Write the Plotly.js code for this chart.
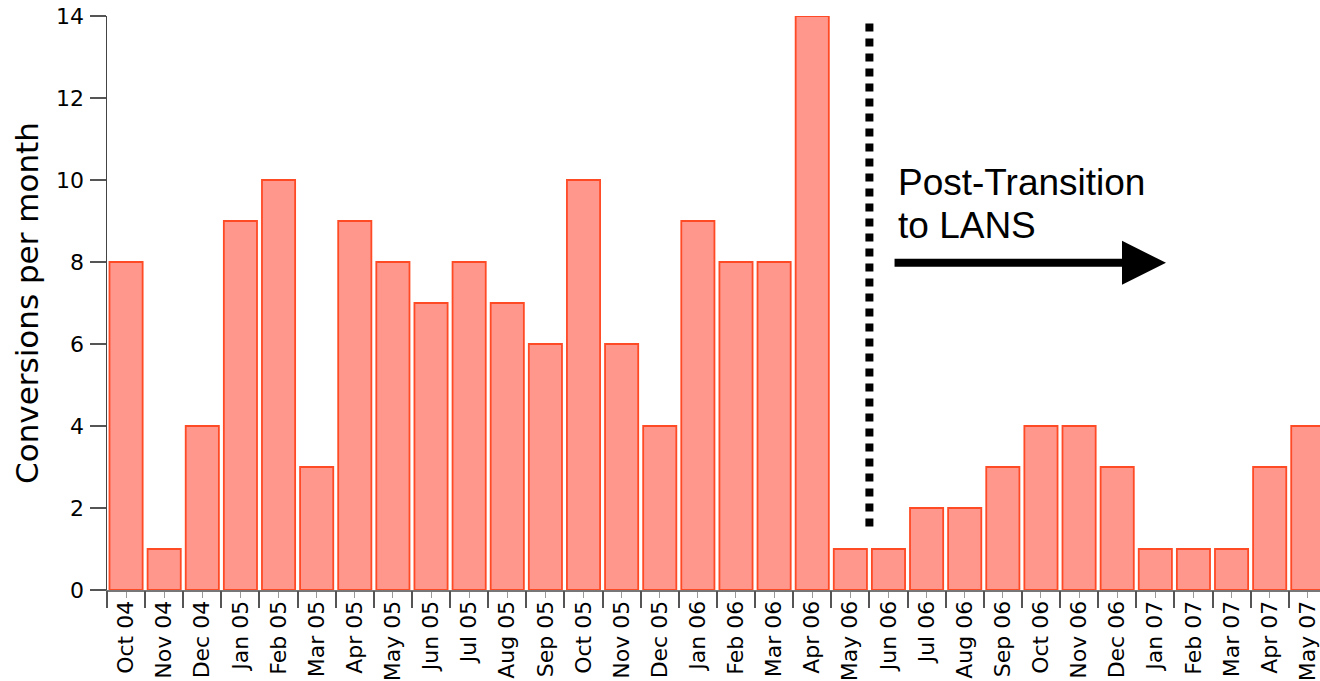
<!DOCTYPE html>
<html>
<head>
<meta charset="utf-8">
<script src="https://cdn.plot.ly/plotly-3.0.1.min.js"></script>
<style>html,body{margin:0;padding:0;background:#fff;}#chart{width:1320px;height:681px;}</style>
</head>
<body>
<div id="chart"></div>
<script>
const months = ["Oct 04","Nov 04","Dec 04","Jan 05","Feb 05","Mar 05","Apr 05","May 05","Jun 05","Jul 05","Aug 05","Sep 05","Oct 05","Nov 05","Dec 05","Jan 06","Feb 06","Mar 06","Apr 06","May 06","Jun 06","Jul 06","Aug 06","Sep 06","Oct 06","Nov 06","Dec 06","Jan 07","Feb 07","Mar 07","Apr 07","May 07"];
const conversions = [8,1,4,9,10,3,9,8,7,8,7,6,10,6,4,9,8,8,14,1,1,2,2,3,4,4,3,1,1,1,3,4];
const yTicks = [0,2,4,6,8,10,12,14];
const transitionMonth = "Jun 06";
const annotationLines = ["Post-Transition","to LANS"];

const tIdx = months.indexOf(transitionMonth) - 0.5;
const xr = [-0.5, 31.32];
const tickFont = {family: "DejaVu Sans", size: 22, color: "#000"};

const traces = [
  {
    type: "bar", x: months, y: conversions, xaxis: "x", yaxis: "y",
    marker: {color: "#FF978C", line: {color: "#FF4A26", width: 1.8}},
    hoverinfo: "x+y", showlegend: false
  },
  {
    type: "scatter", mode: "markers", x: months, y: conversions, xaxis: "x2", yaxis: "y",
    marker: {opacity: 0, size: 1}, hoverinfo: "skip", showlegend: false
  }
];

const layout = {
  width: 1320, height: 681,
  margin: {l: 107, r: 0, t: 16, b: 91},
  paper_bgcolor: "#fff", plot_bgcolor: "#fff",
  bargap: 0.13,
  showlegend: false,
  xaxis: {
    type: "category", categoryorder: "array", categoryarray: months, range: xr,
    showline: true, linecolor: "#777", linewidth: 2,
    ticks: "outside", ticklen: 6, tickwidth: 1, tickcolor: "#999",
    tickangle: -90, tickfont: tickFont, showgrid: false, zeroline: false,
    ticklabelstandoff: -6, fixedrange: true
  },
  xaxis2: {
    type: "category", categoryorder: "array", categoryarray: months, range: xr,
    overlaying: "x", anchor: "y", side: "bottom",
    showline: false, ticks: "outside", tickson: "boundaries", ticklen: 17, tickwidth: 2, tickcolor: "#555",
    showticklabels: false, showgrid: false, zeroline: false
  },
  yaxis: {
    range: [0, 14], tickvals: yTicks, ticktext: yTicks.map(String),
    showline: true, linecolor: "#444", linewidth: 1.5,
    ticks: "outside", ticklen: 16, tickwidth: 2, tickcolor: "#555",
    tickfont: tickFont, showgrid: false, zeroline: false, ticklabelstandoff: 1,
    title: {text: "Conversions per month", font: {family: "DejaVu Sans", size: 31, color: "#000"}, standoff: 8}
  },
  shapes: [
    {type: "line", xref: "x", yref: "y", x0: tIdx, x1: tIdx, y0: 1.55, y1: 13.9,
     line: {color: "#000", width: 8, dash: "8px,7px"}}
  ],
  annotations: [
    {xref: "x", yref: "y", x: 20.2, y: 9.93, xanchor: "left", yanchor: "middle", showarrow: false,
     text: annotationLines[0], font: {family: "Liberation Sans, Arial", size: 37, color: "#000"}},
    {xref: "x", yref: "y", x: 20.2, y: 8.88, xanchor: "left", yanchor: "middle", showarrow: false,
     text: annotationLines[1], font: {family: "Liberation Sans, Arial", size: 37, color: "#000"}},
    {xref: "x", yref: "y", axref: "x", ayref: "y", x: 27.28, y: 7.98, ax: 20.12, ay: 7.98,
     text: "", showarrow: true, arrowhead: 2, arrowwidth: 8, arrowsize: 1.1, arrowcolor: "#000", standoff: 0}
  ]
};

Plotly.newPlot("chart", traces, layout, {displayModeBar: false, staticPlot: true});
</script>
</body>
</html>
